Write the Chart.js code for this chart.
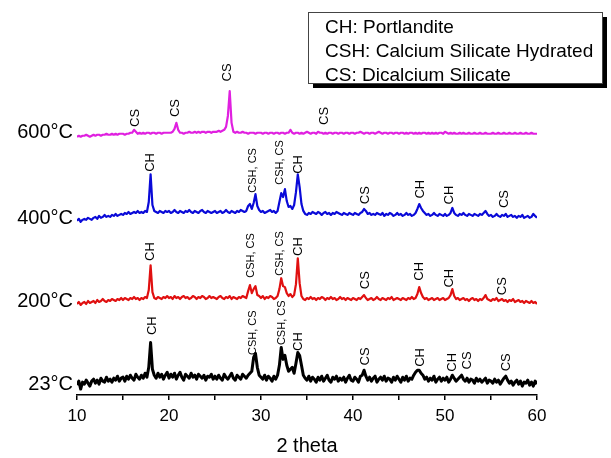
<!DOCTYPE html>
<html>
<head>
<meta charset="utf-8">
<script src="https://cdn.jsdelivr.net/npm/chart.js@4.4.1/dist/chart.umd.min.js"></script>
<style>
  html, body { margin: 0; padding: 0; background: #fff; }
  #wrap { width: 611px; height: 458px; }
</style>
</head>
<body>
<div id="wrap"><canvas id="xrd"></canvas></div>
<script>
// 2 theta grid, 10..60 step 0.2
const startAngle = 10;
const stepAngle = 0.2;

// intensities (offset already applied, arbitrary units)
const y600 = [
  261,262,261,262,262,263,262,261,262,263, 262,263,263,262,263,263,264,263,263,264, 263,264,263,264,264,
  264,263,264,264,265,265,268,266,264,265, 264,265,264,265,265,264,265,265,264,265, 265,264,265,265,265,
  265,265,266,269,275,268,265,265,264,265, 265,266,265,265,266,265,266,265,266,266, 265,266,266,265,266,
  266,266,267,266,267,268,271,282,307,275, 266,265,266,265,265,266,265,265,264,265, 265,265,264,265,265,
  265,264,265,265,264,265,265,264,265,265, 264,265,265,264,265,265,268,265,264,265, 265,264,265,264,265,
  266,265,264,265,265,264,266,265,265,264, 265,264,265,265,264,265,265,264,265,265, 264,265,265,264,265,
  265,264,265,265,266,265,264,265,265,264, 265,265,264,265,266,265,264,265,265,264, 265,265,264,265,265,
  264,265,265,264,265,264,265,265,264,265, 264,265,264,265,265,264,265,264,265,264, 265,264,265,265,264,
  266,265,264,265,264,265,264,264,265,264, 265,264,264,265,264,264,265,264,264,265, 264,264,265,264,264,
  264,265,264,264,265,264,264,265,264,264, 265,264,264,265,264,264,265,264,264,265, 264,264,265,264,264,
  264
];
const y400 = [
  176,178,175,177,178,177,179,178,177,179, 180,178,181,179,180,182,180,181,180,182, 181,183,181,182,183,
  182,184,183,185,183,184,185,184,186,184, 185,184,186,185,195,223,192,186,185,184, 186,185,184,186,185,
  186,184,185,187,185,184,186,185,184,186, 185,187,185,184,186,185,184,186,187,185, 184,186,185,184,185,
  186,184,185,186,184,185,187,185,184,186, 185,184,186,185,187,186,185,186,191,193, 188,194,203,191,187,
  185,186,184,185,186,187,185,186,184,186, 195,204,200,208,196,190,191,188,192,205, 223,210,193,186,183,
  182,184,183,185,184,183,185,184,182,184, 185,183,184,182,184,183,185,184,183,182, 184,183,182,184,183,
  182,184,183,182,184,185,188,186,183,184, 182,183,182,184,183,182,184,181,183,182, 184,183,181,182,184,
  182,183,181,182,184,182,183,181,182,184, 188,193,189,186,184,182,183,181,182,184, 182,181,183,182,181,
  183,181,182,184,189,184,182,181,183,182, 184,182,181,183,182,181,183,182,181,183, 182,184,186,183,181,
  182,180,181,183,181,180,182,181,183,180, 181,182,180,181,179,181,180,182,179,180, 181,179,180,183,181,
  179
];
const y200 = [
  92,94,91,93,94,92,95,93,94,95, 93,96,94,95,97,95,94,96,95,97, 96,95,97,96,98,
  96,98,97,96,98,97,99,97,98,96, 98,97,99,98,106,131,104,98,97,99, 98,97,99,98,100,
  98,99,97,100,98,99,97,99,100,98, 99,97,98,100,99,97,99,98,100,99, 97,98,100,98,99,
  98,97,99,100,98,97,99,98,100,97, 99,98,97,99,98,100,99,98,105,111, 103,107,110,101,100,
  98,100,97,99,98,100,99,97,98,100, 107,118,110,109,103,100,102,99,101,112, 138,113,100,97,96,
  98,97,99,97,98,96,98,97,99,98, 96,98,97,99,97,98,96,97,99,97, 98,96,98,97,96,
  98,97,96,98,97,99,101,98,96,97, 98,96,97,99,97,96,98,97,96,98, 97,99,96,97,98,
  97,96,98,97,96,98,97,99,97,98, 102,109,103,99,97,98,96,97,98,96, 97,98,96,97,98,
  96,97,98,101,107,100,97,98,96,97, 98,96,97,95,97,98,96,97,95,97, 96,98,101,97,96,
  95,97,96,98,95,96,97,95,96,94, 96,95,97,94,95,96,94,95,93,95, 94,93,95,93,94,
  92
];
const y23 = [
  10,14,6,13,11,15,12,9,14,16, 12,15,11,17,14,13,18,14,16,13, 17,15,19,14,17,
  18,14,19,16,20,17,15,21,18,16, 20,17,22,18,28,53,26,20,17,22, 18,21,16,20,23,
  17,21,18,22,16,20,23,18,15,21, 19,17,22,18,20,16,21,19,17,20, 15,19,18,21,16,
  19,16,20,17,15,21,18,16,19,22, 17,15,20,18,16,21,19,17,20,22, 24,38,42,28,20,
  18,16,20,15,19,17,14,19,16,20, 30,48,36,40,30,24,26,28,22,32, 43,40,30,20,17,
  15,19,14,18,16,13,18,15,19,14, 17,20,15,13,18,16,19,14,17,15, 18,13,17,20,15,
  14,18,16,13,19,20,25,19,15,18, 14,17,19,13,16,18,15,19,14,17, 16,13,18,15,19,
  16,13,18,15,19,14,17,16,20,23, 25,25,22,20,16,18,14,17,15,19, 13,16,18,14,17,
  15,18,13,16,20,17,14,16,18,20, 16,14,17,13,16,15,12,17,14,16, 13,15,17,12,15,
  14,12,16,13,15,11,14,17,19,15, 12,14,10,13,15,11,14,9,13,12, 15,10,13,9,14,
  11
];

// temperature labels sit at the baseline of each trace
const tempNames = ['23°C', '200°C', '400°C', '600°C'];
const tempLevels = [11, 95, 178, 265];

// peak annotations
const peakX = [16.3, 20.7, 26.4, 36.9,
  18.0, 29.1, 32.1, 34.1, 41.3, 47.3, 50.5, 56.5,
  18.0, 28.9, 32.1, 34.1, 41.3, 47.2, 50.5, 56.2,
  18.2, 29.1, 32.3, 34.1, 41.3, 47.3, 50.8, 52.4, 56.7];
const peakY = [280, 290, 326, 282,
  235, 227, 235, 233, 202, 208, 202, 198,
  145, 141, 143, 150, 116, 125, 118, 110,
  70, 63, 73, 54, 39, 38, 33, 35, 33];
const peakText = ['CS', 'CS', 'CS', 'CS',
  'CH', 'CSH, CS', 'CSH, CS', 'CH', 'CS', 'CH', 'CH', 'CS',
  'CH', 'CSH, CS', 'CSH, CS', 'CH', 'CS', 'CH', 'CH', 'CS',
  'CH', 'CSH, CS', 'CSH, CS', 'CH', 'CS', 'CH', 'CH', 'CS', 'CS'];

const legendLines = ['CH: Portlandite', 'CSH: Calcium Silicate Hydrated', 'CS: Dicalcium Silicate'];

const FONT = '"Liberation Sans", Arial, sans-serif';

function toPoints(arr) {
  return arr.map((v, i) => ({ x: +(startAngle + i * stepAngle).toFixed(1), y: v }));
}

const peakLabels = {
  id: 'peakLabels',
  afterDatasetsDraw(chart) {
    const { ctx, scales: { x, y } } = chart;
    ctx.save();
    ctx.fillStyle = '#000';
    ctx.textAlign = 'center';
    ctx.textBaseline = 'middle';
    peakX.forEach((px, i) => {
      const txt = peakText[i];
      ctx.font = (txt.length > 2 ? '11px ' : '13px ') + FONT;
      ctx.save();
      ctx.translate(x.getPixelForValue(px), y.getPixelForValue(peakY[i]));
      ctx.rotate(-Math.PI / 2);
      ctx.fillText(txt, 0, 0);
      ctx.restore();
    });
    ctx.restore();
  }
};

const legendBox = {
  id: 'legendBox',
  afterDraw(chart) {
    const ctx = chart.ctx;
    ctx.save();
    ctx.fillStyle = '#000';
    ctx.fillRect(313, 17, 294, 71);
    ctx.fillStyle = '#fff';
    ctx.fillRect(308, 12, 294, 71);
    ctx.strokeStyle = '#444';
    ctx.lineWidth = 1;
    ctx.strokeRect(308.5, 12.5, 294, 71);
    ctx.fillStyle = '#000';
    ctx.font = '19px ' + FONT;
    ctx.textBaseline = 'middle';
    legendLines.forEach((t, i) => ctx.fillText(t, 325, 28 + i * 24));
    ctx.restore();
  }
};

new Chart(document.getElementById('xrd'), {
  type: 'line',
  data: {
    datasets: [
      { label: '23°C', data: toPoints(y23), borderColor: '#000000', borderWidth: 3 },
      { label: '200°C', data: toPoints(y200), borderColor: '#e01010', borderWidth: 2.2 },
      { label: '400°C', data: toPoints(y400), borderColor: '#0a0ad8', borderWidth: 2.2 },
      { label: '600°C', data: toPoints(y600), borderColor: '#e020e0', borderWidth: 2.2 }
    ]
  },
  options: {
    responsive: true,
    maintainAspectRatio: false,
    animation: false,
    elements: { point: { radius: 0 }, line: { tension: 0, borderJoinStyle: 'round' } },
    layout: { padding: { top: 12, right: 74, bottom: 0, left: 0 } },
    plugins: { legend: { display: false }, tooltip: { enabled: false } },
    scales: {
      x: {
        type: 'linear',
        min: 10,
        max: 60,
        afterBuildTicks: s => { s.ticks = [10, 15, 20, 25, 30, 35, 40, 45, 50, 55, 60].map(v => ({ value: v })); },
        ticks: {
          autoSkip: false,
          maxRotation: 0,
          padding: 6,
          color: '#000',
          font: { family: FONT, size: 17 },
          callback: v => (v % 10 === 0 ? v : '')
        },
        grid: { drawOnChartArea: false, drawTicks: true, tickLength: 5, color: '#000', lineWidth: 1.5 },
        border: { display: true, color: '#000', width: 1.5 },
        title: { display: true, text: '2 theta', color: '#000', font: { family: FONT, size: 20 }, padding: { top: 4, bottom: 0 } },
        afterFit: s => { s.height = 63; }
      },
      y: {
        type: 'linear',
        min: 0,
        max: 383,
        afterBuildTicks: s => { s.ticks = tempLevels.map(v => ({ value: v })); },
        ticks: {
          autoSkip: false,
          padding: 4,
          color: '#000',
          font: { family: FONT, size: 20 },
          callback: (v, i) => tempNames[i]
        },
        grid: { display: false, drawTicks: false },
        border: { display: false },
        afterFit: s => { s.width = 77; }
      }
    }
  },
  plugins: [peakLabels, legendBox]
});
</script>
</body>
</html>
